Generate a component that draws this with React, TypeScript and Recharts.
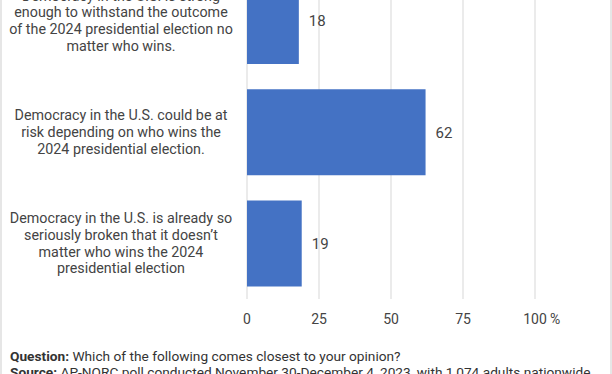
import { BarChart, Bar, XAxis, YAxis, CartesianGrid, LabelList } from "recharts";

const categories = [
  "Democracy in the U.S. is strong\nenough to withstand the outcome\nof the 2024 presidential election no\nmatter who wins.",
  "Democracy in the U.S. could be at\nrisk depending on who wins the\n2024 presidential election.",
  "Democracy in the U.S. is already so\nseriously broken that it doesn’t\nmatter who wins the 2024\npresidential election",
];
const values = [18, 62, 19];
const xTicks = [0, 25, 50, 75, 100];

const data = categories.map((c, i) => ({ name: c, value: values[i] }));

const FONT = "Roboto, 'Noto Sans', sans-serif";

function CategoryTick(props: any) {
  const { y, payload } = props;
  const lines = String(payload.value).split("\n");
  const lh = 16.7;
  const start = y - ((lines.length - 1) * lh) / 2;
  return (
    <text x={121} y={start} textAnchor="middle" fill="#444" fontSize={14.3} fontFamily={FONT}>
      {lines.map((l, i) => (
        <tspan key={i} x={121} y={start + i * lh} dy="0.35em">
          {l}
        </tspan>
      ))}
    </text>
  );
}

function ValueTick(props: any) {
  const { x, y, payload } = props;
  return (
    <g>
      <text x={x} y={y + 7} dy="0.71em" textAnchor="middle" fill="#444" fontSize={14} fontFamily={FONT}>
        {payload.value}
      </text>
      {payload.value === 100 && (
        <text x={x + 15} y={y + 7} dy="0.71em" textAnchor="start" fill="#444" fontSize={14} fontFamily={FONT}>
          %
        </text>
      )}
    </g>
  );
}

export default function App() {
  return (
    <div
      style={{
        position: "fixed",
        top: 0,
        left: 0,
        width: 612,
        height: 374,
        overflow: "hidden",
        background: "#fff",
        boxSizing: "border-box",
        borderLeft: "2px solid #e6e6e6",
        borderRight: "2px solid #e6e6e6",
      }}
    >
      <div style={{ position: "absolute", top: -40, left: -2 }}>
        <BarChart
          width={612}
          height={370}
          data={data}
          layout="vertical"
          barCategoryGap="11.6%"
          margin={{ top: 5, right: 77, bottom: 0, left: 0 }}
        >
          <CartesianGrid horizontal={false} stroke="#e4e4e4" strokeWidth={1.5} />
          <XAxis
            type="number"
            domain={[0, 100]}
            ticks={xTicks}
            axisLine={false}
            tickLine={false}
            tick={<ValueTick />}
            height={31}
          />
          <YAxis
            type="category"
            dataKey="name"
            width={247}
            axisLine={false}
            tickLine={false}
            tick={<CategoryTick />}
            interval={0}
          />
          <Bar dataKey="value" fill="#4472C4" isAnimationActive={false}>
            <LabelList dataKey="value" position="right" offset={10} fill="#444" fontSize={15} fontFamily={FONT} />
          </Bar>
        </BarChart>
      </div>
      <div
        style={{
          position: "absolute",
          top: 348,
          left: 8,
          fontFamily: FONT,
          fontSize: 13.7,
          lineHeight: "16px",
          color: "#333",
          whiteSpace: "nowrap",
        }}
      >
        <div>
          <b>Question:</b> Which of the following comes closest to your opinion?
        </div>
        <div>
          <b>Source:</b> AP-NORC poll conducted November 30-December 4, 2023, with 1,074 adults nationwide.
        </div>
      </div>
    </div>
  );
}
